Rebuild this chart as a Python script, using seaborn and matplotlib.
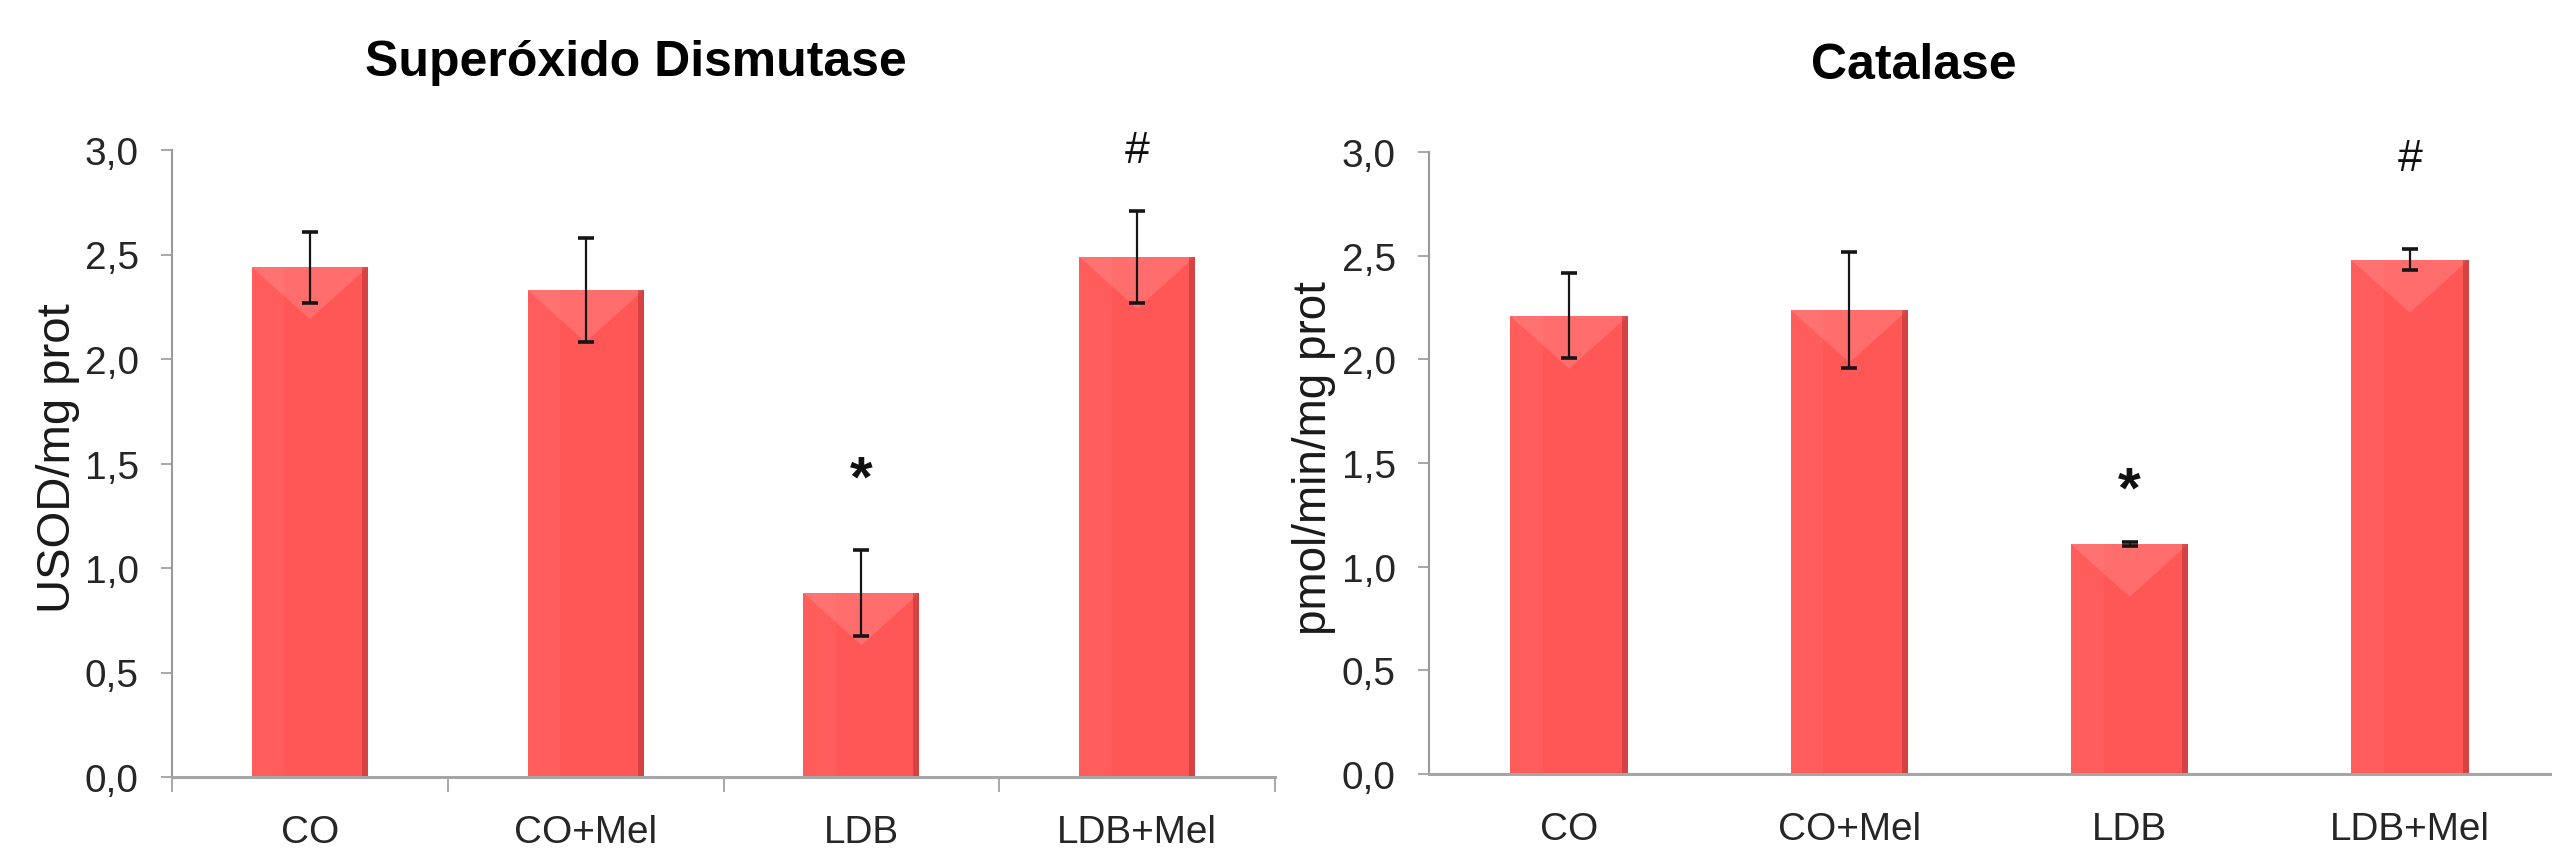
import numpy as np
import matplotlib
matplotlib.use("Agg")
import matplotlib.pyplot as plt
from matplotlib import font_manager as fm
from matplotlib.patches import Polygon
from matplotlib.ticker import FixedLocator, FuncFormatter
import seaborn as sns

# ---------------- data ----------------
categories = ["CO", "CO+Mel", "LDB", "LDB+Mel"]

sod_values = [2.44, 2.33, 0.88, 2.49]
sod_errors = [0.17, 0.25, 0.205, 0.22]
sod_marks = ["", "", "*", "#"]
sod_mark_y = [None, None, 1.42, 3.0]

cat_values = [2.21, 2.24, 1.11, 2.48]
cat_errors = [0.205, 0.28, 0.01, 0.05]
cat_marks = ["", "", "*", "#"]
cat_mark_y = [None, None, 1.36, 2.97]

titles = ["Superóxido Dismutase", "Catalase"]
ylabels = ["USOD/mg prot", "pmol/min/mg prot"]
yticks = [0.0, 0.5, 1.0, 1.5, 2.0, 2.5, 3.0]

# ---------------- fonts ----------------
names = {f.name for f in fm.fontManager.ttflist}
if "Liberation Sans Narrow" in names:
    NARROW, nscale = "Liberation Sans Narrow", 1.0
else:
    NARROW, nscale = "Liberation Sans", 0.9
REG = "Liberation Sans" if "Liberation Sans" in names else "DejaVu Sans"

BAR = "#FF5656"
W, H = 2561, 862
fig = plt.figure(figsize=(W / 100, H / 100), dpi=100)
fig.patch.set_facecolor("white")

# axes boxes in pixels: left, right, top(3.0 row), bottom(0 value)
boxes = [(172, 1275, 151, 778), (1429, 2550, 153, 775)]
title_pos = [(636, 76), (1914, 79)]

datasets = [
    (sod_values, sod_errors, sod_marks, sod_mark_y, True),
    (cat_values, cat_errors, cat_marks, cat_mark_y, False),
]

for i, (vals, errs, marks, marky, minor_ticks) in enumerate(datasets):
    l, r, t, b = boxes[i]
    ax = fig.add_axes([l / W, 1 - b / H, (r - l) / W, (b - t) / H])
    sns.barplot(x=categories, y=vals, ax=ax, color=BAR, width=0.42,
                saturation=1, edgecolor="none", linewidth=0)
    ax.set_xlim(-0.5, len(categories) - 0.5)
    ax.set_ylim(0, 3.0)

    # bevel-like shading derived from each bar patch
    inv = ax.transData.inverted()
    for p in list(ax.patches):
        x0, w, h = p.get_x(), p.get_width(), p.get_height()
        (dx0, dy0) = ax.transData.transform((x0, h))
        (dx1, _) = ax.transData.transform((x0 + w, h))
        wpx = dx1 - dx0
        z = p.get_zorder() + 0.1
        apex = inv.transform((dx0 + wpx / 2, dy0 - 0.45 * wpx))
        ax.add_patch(Polygon([(x0, h), (x0 + w, h), tuple(apex)], closed=True,
                             facecolor="white", alpha=0.14, edgecolor="none", zorder=z))
        redge = inv.transform((dx1 - 6, dy0))[0]
        ax.add_patch(Polygon([(redge, 0), (x0 + w, 0), (x0 + w, h), (redge, h)], closed=True,
                             facecolor="#8B1A1A", alpha=0.35, edgecolor="none", zorder=z))
        lband = inv.transform((dx0 + 0.28 * wpx, dy0))[0]
        ax.add_patch(Polygon([(x0, 0), (lband, 0), (lband, h), (x0, h)], closed=True,
                             facecolor="white", alpha=0.04, edgecolor="none", zorder=z))

    ax.errorbar(np.arange(len(categories)), vals, yerr=errs, fmt="none",
                ecolor="#151515", elinewidth=1.6, capsize=6, capthick=2.6, zorder=5)

    for k, (m, my) in enumerate(zip(marks, marky)):
        if not m:
            continue
        if m == "*":
            ax.text(k, my, m, ha="center", va="center", fontsize=42, fontweight="bold",
                    family=REG, color="#111111", zorder=6)
        else:
            ax.text(k, my, m, ha="center", va="center", fontsize=32,
                    family=NARROW, color="#111111", zorder=6, clip_on=False)

    for s in ["top", "right"]:
        ax.spines[s].set_visible(False)
    ax.spines["left"].set_color("#9a9a9a")
    ax.spines["left"].set_linewidth(1.5)
    ax.spines["bottom"].set_color("#a6a6a6")
    ax.spines["bottom"].set_linewidth(2.2)

    ax.yaxis.set_major_locator(FixedLocator(yticks))
    ax.yaxis.set_major_formatter(FuncFormatter(lambda v, pos: f"{v:.1f}".replace(".", ",")))
    ax.tick_params(axis="y", direction="out", length=8, width=1.2, color="#9a9a9a",
                   pad=16, labelsize=31 * nscale, labelcolor="#262626")
    ax.tick_params(axis="x", which="major", length=0, pad=27,
                   labelsize=31 * nscale, labelcolor="#262626")
    for lab in ax.get_yticklabels() + ax.get_xticklabels():
        lab.set_family(NARROW)
    if minor_ticks:
        ax.xaxis.set_minor_locator(FixedLocator(np.arange(len(categories) + 1) - 0.5))
        ax.tick_params(axis="x", which="minor", direction="out", length=11, width=1.2, color="#9a9a9a")

    ax.set_xlabel("")
    ax.set_ylabel(ylabels[i], fontsize=34 if i == 0 else 33, family=REG, color="#1a1a1a")
    ax.yaxis.label.set_va("center")
    ax.yaxis.set_label_coords((58 - l) / (r - l) if i == 0 else (1314 - l) / (r - l), 0.51)
    ax.set_facecolor("white")

    tx, ty = title_pos[i]
    fig.text(tx / W, 1 - ty / H, titles[i], ha="center", va="baseline",
             fontsize=36, fontweight="bold", family=NARROW, color="black")

fig.savefig("out.png", dpi=100, facecolor="white")
